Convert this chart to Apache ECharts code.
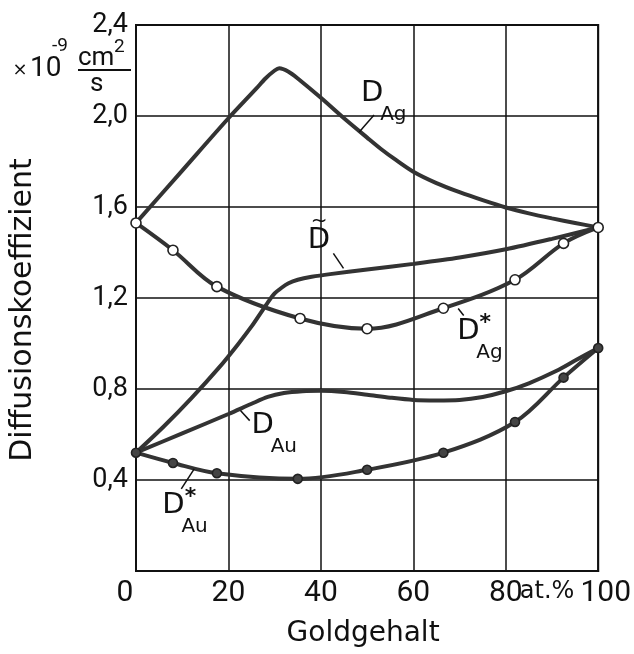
<!DOCTYPE html>
<html>
<head>
<meta charset="utf-8">
<script src="https://cdn.jsdelivr.net/npm/echarts/dist/echarts.min.js"></script>
<style>
  html, body { margin: 0; padding: 0; background: #fff; }
  #chart { width: 634px; height: 654px; }
</style>
</head>
<body>
<div id="chart"></div>
<script>
// Axis ticks
const xTicks = [0, 20, 40, 60, 80, 100];
const yTicks = [0, 0.4, 0.8, 1.2, 1.6, 2.0, 2.4];

// Gold content (at.%) and diffusion coefficients (1e-9 cm^2/s)
// D_Ag: intrinsic diffusion coefficient of silver
const dAgX = [0, 10, 20, 26, 28, 30, 31, 33, 35, 40, 45, 50, 53, 56, 60, 65, 70, 75, 80, 85, 90, 95, 100];
const dAgY = [1.53, 1.76, 1.99, 2.12, 2.165, 2.2, 2.21, 2.195, 2.165, 2.08, 1.99, 1.905, 1.855, 1.81, 1.755, 1.705, 1.665, 1.63, 1.598, 1.572, 1.55, 1.53, 1.51];

// D~: interdiffusion coefficient
const dTildeX = [0, 6, 12, 18, 22, 25, 27, 28.5, 30, 31.5, 33, 35, 38, 42, 50, 60, 70, 80, 90, 100];
const dTildeY = [0.52, 0.635, 0.76, 0.895, 0.995, 1.075, 1.135, 1.18, 1.22, 1.245, 1.265, 1.28, 1.293, 1.305, 1.325, 1.35, 1.378, 1.414, 1.46, 1.51];

// D_Au: intrinsic diffusion coefficient of gold
const dAuX = [0, 10, 20, 25, 28.5, 32, 36, 40, 45, 50, 55, 60, 65, 70, 75, 80, 85, 91, 95, 100];
const dAuY = [0.52, 0.605, 0.69, 0.735, 0.765, 0.782, 0.79, 0.792, 0.787, 0.775, 0.762, 0.752, 0.75, 0.752, 0.765, 0.79, 0.825, 0.88, 0.925, 0.98];

// D*_Ag: tracer diffusion of silver (measured, open circles)
const dAgStarX = [0, 8, 17.5, 35.5, 50, 66.5, 82, 92.5, 100];
const dAgStarY = [1.53, 1.41, 1.25, 1.11, 1.065, 1.155, 1.28, 1.44, 1.51];

// D*_Au: tracer diffusion of gold (measured, filled dots)
const dAuStarX = [0, 8, 17.5, 35, 50, 66.5, 82, 92.5, 100];
const dAuStarY = [0.52, 0.475, 0.43, 0.405, 0.445, 0.52, 0.655, 0.85, 0.98];

const pairs = (xs, ys) => xs.map((x, i) => [x, ys[i]]);

const WORD_FONT = '"DejaVu Sans", sans-serif';
const NUM_FONT = 'Roboto, "DejaVu Sans", sans-serif';
const INK = '#111';
const CURVE = '#333';

const chart = echarts.init(document.getElementById('chart'), null, { renderer: 'canvas' });

const curve = (name, xs, ys, z) => ({
  name, type: 'line', data: pairs(xs, ys), smooth: 0.3, showSymbol: false, symbol: 'none',
  lineStyle: { color: CURVE, width: 4 }, z, silent: true, animation: false
});

const measured = (name, xs, ys, filled, z) => ({
  name, type: 'line', data: pairs(xs, ys), smooth: 0.35, symbol: 'circle', symbolSize: filled ? 9 : 10,
  showSymbol: true,
  lineStyle: { color: CURVE, width: 4 },
  itemStyle: { color: filled ? '#444' : '#fff', borderColor: '#222', borderWidth: 1.6 },
  z, silent: true, animation: false
});

chart.setOption({
  animation: false,
  backgroundColor: '#fff',
  grid: { left: 136, right: 30, top: 25, bottom: 83, show: true, borderColor: INK, borderWidth: 2, backgroundColor: 'transparent' },
  xAxis: {
    type: 'value', min: xTicks[0], max: xTicks[xTicks.length - 1], interval: xTicks[1] - xTicks[0],
    axisLine: { show: true, lineStyle: { color: INK, width: 2 } },
    axisTick: { show: false },
    splitLine: { show: true, lineStyle: { color: INK, width: 1.5 } },
    axisLabel: {
      show: true, margin: 7, color: INK, fontFamily: NUM_FONT, fontSize: 30,
      showMinLabel: true, showMaxLabel: true,
      formatter: v => v === 0 ? '{l|0}' : (v === 100 ? '{r|100}' : String(v)),
      rich: {
        l: { padding: [0, 22, 0, 0], fontFamily: NUM_FONT, fontSize: 30, color: INK },
        r: { padding: [0, 0, 0, 15], fontFamily: NUM_FONT, fontSize: 30, color: INK }
      }
    }
  },
  yAxis: {
    type: 'value', min: yTicks[0], max: yTicks[yTicks.length - 1], interval: 0.4,
    axisLine: { show: true, lineStyle: { color: INK, width: 2 } },
    axisTick: { show: false },
    splitLine: { show: true, lineStyle: { color: INK, width: 1.5 } },
    axisLabel: {
      show: true, margin: 8, color: INK, fontFamily: NUM_FONT, fontSize: 27,
      showMinLabel: true, showMaxLabel: true,
      formatter: v => (v === 0 ? '' : v.toFixed(1).replace('.', ','))
    }
  },
  series: [
    curve('D_Ag', dAgX, dAgY, 2),
    curve('D~', dTildeX, dTildeY, 2),
    curve('D_Au', dAuX, dAuY, 2),
    measured('D*_Au', dAuStarX, dAuStarY, true, 3),
    measured('D*_Ag', dAgStarX, dAgStarY, false, 4)
  ]
});

// Curve tags: centre of the "D" glyph and leader line, both in data units
const tags = [
  { sub: 'Ag', star: false, tilde: false, at: [51.1, 2.097], lead: [[51.5, 2.004], [48.3, 1.930]] },
  { sub: '',   star: false, tilde: true,  at: [39.6, 1.454], lead: [[42.7, 1.396], [44.9, 1.330]] },
  { sub: 'Ag', star: true,  tilde: false, at: [71.9, 1.051], lead: [[70.9, 1.123], [69.7, 1.154]] },
  { sub: 'Au', star: false, tilde: false, at: [27.4, 0.639], lead: [[24.6, 0.661], [22.6, 0.705]] },
  { sub: 'Au', star: true,  tilde: false, at: [8.1, 0.286],  lead: [[9.8, 0.361], [12.6, 0.449]] }
];

const px = p => chart.convertToPixel({ gridIndex: 0 }, p);
const graphics = [];
const txt = (text, x, y, font, align, rotation) => graphics.push({
  type: 'text', silent: true, z: 100, x, y, rotation: rotation || 0,
  style: { text, x: 0, y: 0, font, fill: INK, textAlign: align || 'left', textVerticalAlign: 'middle' }
});

tags.forEach(t => {
  const c = px(t.at);
  txt('D', c[0], c[1], '29px ' + WORD_FONT, 'center');
  if (t.sub) txt(t.sub, c[0] + 8, c[1] + 21, '20px ' + WORD_FONT, 'left');
  if (t.star) txt('*', c[0] + 17, c[1] - 9, 'bold 22px ' + WORD_FONT, 'center');
  if (t.tilde) txt('~', c[0], c[1] - 18, '20px ' + WORD_FONT, 'center');
  const a = px(t.lead[0]), b = px(t.lead[1]);
  graphics.push({ type: 'line', silent: true, z: 100,
    shape: { x1: a[0], y1: a[1], x2: b[0], y2: b[1] },
    style: { stroke: INK, lineWidth: 1.5 } });
});

// unit suffix next to the 80 tick
const p80 = px([80, 0]);
txt('at.%', p80[0] + 14, p80[1] + 21, '24px ' + WORD_FONT, 'left');

// axis titles
const pMid = px([50, 1.2]);
txt('Goldgehalt', pMid[0] - 4, 634, '28px ' + WORD_FONT, 'center');
txt('Diffusionskoeffizient', 23, 310, '30px ' + WORD_FONT, 'center', Math.PI / 2);

// unit block: x10^-9 cm^2/s
txt('\u00d7', 20, 70, '18px ' + WORD_FONT, 'center');
txt('10', 30, 69, '28px ' + NUM_FONT, 'left');
txt('-9', 52, 46, '19px ' + NUM_FONT, 'left');
txt('cm', 78, 58, '26px ' + NUM_FONT, 'left');
txt('2', 114, 47, '19px ' + NUM_FONT, 'left');
graphics.push({ type: 'line', silent: true, z: 100, shape: { x1: 78, y1: 70, x2: 131, y2: 70 }, style: { stroke: INK, lineWidth: 2 } });
txt('s', 90, 84, '26px ' + NUM_FONT, 'left');

chart.setOption({ graphic: graphics });
</script>
</body>
</html>
